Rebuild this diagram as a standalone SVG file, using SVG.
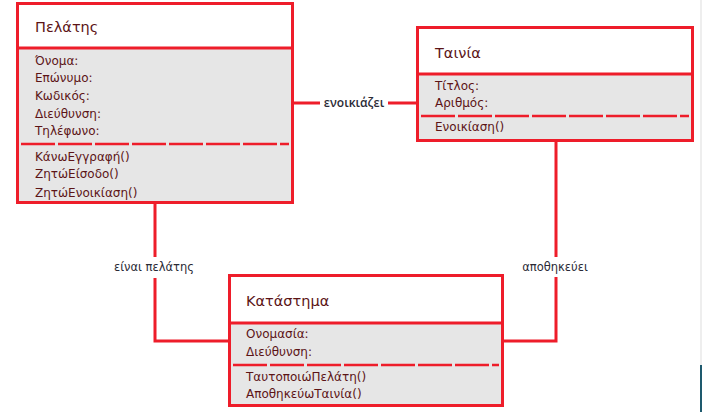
<svg xmlns="http://www.w3.org/2000/svg" width="702" height="412" viewBox="0 0 702 412">
<style>
.box{fill:#e6e6e6;stroke:#ee1d2a;stroke-width:3}
.hdr{fill:#ffffff;stroke:none}
.sep{stroke:#ee1d2a;stroke-width:3}
.dash{stroke:#ee1d2a;stroke-width:2.5;stroke-dasharray:34 3}
.title{font-family:"DejaVu Sans","Liberation Sans",sans-serif;font-size:14.5px;fill:#5c1416}
.attr{font-family:"DejaVu Sans","Liberation Sans",sans-serif;font-size:12px;fill:#5c1416}
.conn{fill:none;stroke:#ee1d2a;stroke-width:3}
.lbl{font-family:"DejaVu Sans","Liberation Sans",sans-serif;font-size:11.5px;fill:#2a2a35;text-anchor:middle}
.lblb{font-family:"Open Sans","DejaVu Sans",sans-serif;font-size:12px;font-weight:600;fill:#2a2a35;text-anchor:middle}
</style>
<rect x="0" y="0" width="702" height="412" fill="#ffffff"/>
<rect x="700" y="0" width="2" height="412" fill="#eeeeee"/>
<rect x="700" y="365" width="2" height="47" fill="#1e5a6e"/>
<g id="connectors">
<path class="conn" d="M293 103 H320 M388 103 H418"/>
<path class="conn" d="M155 203 V257 M155 278 V341 H229"/>
<path class="conn" d="M556 141 V257 M556 277 V341 H503"/>
<text class="lblb" x="354" y="107">ενοικιάζει</text>
<text class="lbl" x="154" y="271">είναι πελάτης</text>
<text class="lbl" x="555" y="271">αποθηκεύει</text>
</g>
<g id="pelatis">
<rect class="box" x="17.5" y="3.5" width="275" height="199"/>
<rect class="hdr" x="19" y="5" width="272" height="42"/>
<line class="sep" x1="17.5" y1="48" x2="292.5" y2="48"/>
<line class="dash" x1="21" y1="144" x2="289" y2="144"/>
<text class="title" x="35" y="32">Πελάτης</text>
<text class="attr" x="35" y="65">Όνομα:</text>
<text class="attr" x="35" y="82">Επώνυμο:</text>
<text class="attr" x="35" y="100">Κωδικός:</text>
<text class="attr" x="35" y="118">Διεύθυνση:</text>
<text class="attr" x="35" y="135">Τηλέφωνο:</text>
<text class="attr" x="35" y="161">ΚάνωΕγγραφή()</text>
<text class="attr" x="35" y="178">ΖητώΕίσοδο()</text>
<text class="attr" x="35" y="197">ΖητώΕνοικίαση()</text>
</g>
<g id="tainia">
<rect class="box" x="417.5" y="27.5" width="275" height="113"/>
<rect class="hdr" x="419" y="29" width="272" height="44"/>
<line class="sep" x1="417.5" y1="74" x2="692.5" y2="74"/>
<line class="dash" x1="421" y1="116" x2="689" y2="116"/>
<text class="title" x="435" y="58">Ταινία</text>
<text class="attr" x="435" y="90">Τίτλος:</text>
<text class="attr" x="435" y="107">Αριθμός:</text>
<text class="attr" x="435" y="131">Ενοικίαση()</text>
</g>
<g id="katastima">
<rect class="box" x="229.5" y="275.5" width="273" height="130"/>
<rect class="hdr" x="231" y="277" width="270" height="45"/>
<line class="sep" x1="229.5" y1="323" x2="502.5" y2="323"/>
<line class="dash" x1="233" y1="365" x2="499" y2="365"/>
<text class="title" x="246" y="306">Κατάστημα</text>
<text class="attr" x="246" y="338">Ονομασία:</text>
<text class="attr" x="246" y="356">Διεύθυνση:</text>
<text class="attr" x="246" y="381">ΤαυτοποιώΠελάτη()</text>
<text class="attr" x="246" y="398">ΑποθηκεύωΤαινία()</text>
</g>
</svg>
